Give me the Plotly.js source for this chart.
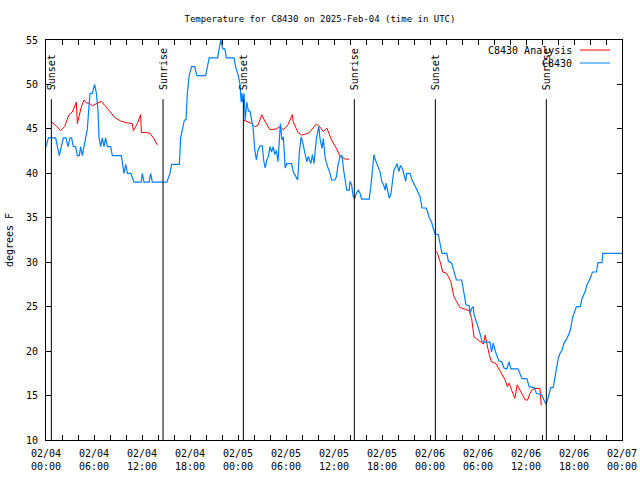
<!DOCTYPE html>
<html>
<head>
<meta charset="utf-8">
<script src="https://cdn.plot.ly/plotly-3.0.1.min.js"></script>
<style>html,body{margin:0;padding:0;background:#fff}#chart{width:640px;height:480px}</style>
</head>
<body>
<div id="chart"></div>
<script>
// Hours since 2025-02-04 00:00 UTC
const obsHours = [0.0,0.3,1.2,1.45,1.67,1.92,2.17,2.5,2.75,3.0,3.2,3.42,3.7,3.92,4.17,4.33,4.54,4.75,5.0,5.17,5.33,5.5,5.79,6.08,6.3,6.5,6.63,6.83,7.04,7.25,7.46,7.67,8.08,8.29,9.42,9.63,9.75,9.96,10.17,10.6,11.0,11.9,12.04,12.25,12.9,13.08,13.29,15.1,15.5,15.7,16.67,16.83,17.08,17.3,17.5,17.67,17.9,18.2,18.6,18.85,19.95,20.15,20.4,21.45,21.67,21.85,22.1,22.35,22.55,23.5,23.7,24.04,24.25,24.4,24.5,24.6,24.75,24.9,25.1,25.3,25.5,25.7,25.9,26.1,26.3,26.5,26.75,27.04,27.2,27.4,27.6,27.8,28.0,28.2,28.4,28.6,28.8,29.0,29.17,29.3,29.5,29.67,29.9,30.1,30.7,30.9,31.25,31.46,31.67,31.9,32.1,32.4,32.6,32.8,33.1,33.3,33.5,33.8,34.1,34.25,34.5,34.67,34.9,35.2,35.5,35.7,36.1,36.3,36.5,36.75,37.0,37.2,37.4,37.6,37.9,38.0,38.2,38.4,38.6,38.8,39.04,39.25,39.46,40.4,40.6,40.8,41.0,41.1,41.3,41.5,41.75,41.96,42.2,42.4,42.5,42.7,42.9,43.1,43.3,43.5,43.75,43.9,44.1,44.3,44.6,44.8,44.96,45.1,45.5,45.7,46.1,46.5,46.75,47.0,47.5,47.7,47.9,48.2,48.5,48.6,49.04,49.25,49.5,50.1,50.3,50.7,51.0,51.3,51.96,52.2,52.5,52.9,53.0,53.2,53.4,53.5,53.75,54.0,54.3,54.5,54.75,55.5,55.7,55.9,56.2,56.6,56.96,57.25,57.6,57.9,58.1,59.0,59.5,60.1,60.4,61.04,61.3,61.96,62.25,62.5,62.67,62.9,63.1,63.4,63.6,63.8,64.04,64.25,64.5,64.75,65.1,65.4,65.6,65.8,66.1,66.3,66.8,67.0,67.4,67.6,68.0,68.3,68.8,69.0,69.5,69.6,72.0];
const obsTemps = [43,44,44,43,42,43,44,44,43,44,44,43,43,42,42,43,42,43,44,45,47,49,49,50,49,47,44,43,44,43,44,43,43,42,42,41,40,41,40,40,39,39,40,39,39,40,39,39,40,41,41,44,45,46,46,49,51,52,52,51,51,52,53,53,54,55,54,54,53,53,52,51,50,48,49,48,49,46,48,47,47,46,45,42.6,41.5,42.6,43.1,43.1,41.5,40.6,41.5,41.9,43,42.4,43,42.1,42.6,41.3,44.5,45.6,43.75,44.1,40.6,41.1,41.1,40.2,39.6,39.25,42.4,44.1,43.4,41.9,41.3,41.9,41.1,42.1,41.1,43.9,45.25,43.9,42.8,43.9,41.7,40.75,40,39.25,39.25,39.6,40.9,41.9,42,40.4,39.2,38.1,38.1,39.1,38.7,37.4,37.2,37.75,38.1,37.75,37.1,37.1,38.5,40.4,42.1,41.7,41.1,40.75,40.2,39.1,38.7,38.1,38.9,38.1,37.2,37.6,39.25,40.4,40.75,41.1,40.2,40.9,40.4,39.8,39.1,40.0,40.0,39.4,38.7,37.9,37.4,36.1,36.1,35.7,35.0,34.5,33.6,33.2,33.1,32.3,31,31,30.1,29.9,28.9,28.0,28.0,26.9,25.2,25.1,24.25,24.8,25,24.1,23.5,22.75,21.8,21.1,21,21,19.9,20.9,19.9,18.9,18.8,18.1,18,18.8,18.0,18.0,16.9,16.9,16.0,15.9,15.25,15.1,14.5,14.05,14.4,15.2,15.9,15.9,17.1,17.9,19.2,19.75,20.1,20.9,21.4,22,22.6,23.7,24.4,25,25,25.9,26.7,27.4,28.1,28.9,28.9,29.95,29.95,31,31];

const anaHours = [0.67,1.21,1.83,2.33,2.875,3.29,3.79,3.92,4.13,4.42,4.75,5.08,5.4,5.79,6.42,6.92,7.46,8.08,8.71,9.33,9.96,10.79,10.92,11.42,11.83,11.92,12.46,13.0,13.5,13.92,null,
  24.67,25.3,25.7,26.1,26.5,26.96,27.4,28.0,28.8,29.25,29.67,30.2,30.8,30.9,31.5,31.96,32.8,33.2,33.8,34.25,34.67,35.1,35.7,36.3,36.75,37.4,37.9,null,
  48.67,48.9,49.25,49.6,50.0,50.3,50.6,50.8,51.0,51.3,51.75,52.4,52.9,53.2,53.5,53.8,54.3,54.67,54.9,55.2,55.4,55.7,56.25,56.8,57.4,57.67,57.9,58.2,58.6,58.9,59.25,59.6,59.9,60.2,60.5,60.8,61.25,61.75,61.9];
const anaTemps = [45.8,45.4,44.8,45.25,46.6,46.9,48.0,45.6,46.4,47.5,48.25,47.9,47.9,47.6,47.9,48.1,47.5,46.8,46.2,45.9,45.7,45.6,44.8,45.6,46.6,44.6,44.6,44.5,43.9,43.2,null,
  46.0,45.8,45.6,45.25,45.4,46.6,45.8,44.9,45.0,45.25,44.9,45.4,46.6,45.8,44.6,44.3,44.5,44.9,45.55,45.2,44.7,45.1,43.75,42.8,41.95,41.6,41.6,null,
  31.3,31.1,30.1,28.9,28.8,28.4,27.8,26.7,26.1,25.6,24.9,24.7,24.55,23.7,21.6,21.4,21.1,20.8,21.8,20.6,19.6,18.8,18.6,17.7,16.75,16.0,16.4,15.6,14.7,16.2,15.6,15.1,14.5,14.5,15.25,15.7,15.8,15.8,13.9];

const sunHours = [0.67,14.63,24.67,38.54,48.67,62.54];
const sunLabels = ['Sunset','Sunrise','Sunset','Sunrise','Sunset','Sunrise'];

const tickHours = [0,6,12,18,24,30,36,42,48,54,60,66,72];
const tickLabels = ['02/04<br>00:00','02/04<br>06:00','02/04<br>12:00','02/04<br>18:00','02/05<br>00:00','02/05<br>06:00','02/05<br>12:00','02/05<br>18:00','02/06<br>00:00','02/06<br>06:00','02/06<br>12:00','02/06<br>18:00','02/07<br>00:00'];

const seriesNames = ['C8430 Analysis','C8430'];
const seriesColors = ['#ff0000','#0080ff'];

const FONT = 'DejaVu Sans Mono, monospace';

const traces = [
  {x: anaHours, y: anaTemps, mode:'lines', name: seriesNames[0], line:{color:seriesColors[0], width:1}, connectgaps:false, showlegend:false},
  {x: obsHours, y: obsTemps, mode:'lines', name: seriesNames[1], line:{color:seriesColors[1], width:1.2}, showlegend:false}
];

const shapes = [];
const annotations = [];
sunHours.forEach((h,i)=>{
  shapes.push({type:'line', xref:'x', yref:'paper', x0:h, x1:h, y0:0, y1:0.852, line:{color:'#000', width:1}});
  annotations.push({xref:'x', yref:'paper', x:h, y:0.87, text:sunLabels[i], textangle:-90, showarrow:false, xanchor:'center', yanchor:'bottom', font:{family:FONT, size:10, color:'#000'}});
});
// legend (gnuplot style: text then sample)
seriesNames.forEach((n,i)=>{
  const yp = 1 - (10 + i*13)/400;
  annotations.push({xref:'paper', yref:'paper', x:(574-46)/576, y:yp, text:n, showarrow:false, xanchor:'right', yanchor:'middle', font:{family:FONT, size:10, color:'#000'}});
  shapes.push({type:'line', xref:'paper', yref:'paper', x0:(580-46)/576, x1:(610-46)/576, y0:yp, y1:yp, line:{color:seriesColors[i], width:1}});
});

const axisCommon = {
  showline:true, linecolor:'#000', linewidth:1, mirror:'allticks',
  ticks:'inside', ticklen:5, tickcolor:'#000', tickwidth:1,
  showgrid:false, zeroline:false,
  tickfont:{family:FONT, size:10, color:'#000'}
};

const layout = {
  width:640, height:480,
  margin:{l:46, r:18, t:40, b:40},
  paper_bgcolor:'#fff', plot_bgcolor:'#fff',
  title:{text:'Temperature for C8430 on 2025-Feb-04 (time in UTC)', x:0.5, xanchor:'center', y:0.96, yanchor:'middle', font:{family:FONT, size:9, color:'#000'}},
  xaxis:Object.assign({}, axisCommon, {
    range:[0,72], tickmode:'array', tickvals:tickHours, ticktext:tickLabels,
    ticklabelstandoff:4,
    minor:{tickmode:'linear', dtick:2, ticks:'inside', ticklen:5, tickcolor:'#000', tickwidth:1, showgrid:false}
  }),
  yaxis:Object.assign({}, axisCommon, {
    range:[10,55], tickmode:'linear', tick0:10, dtick:5, ticklabelstandoff:5,
    title:{text:'degrees F', font:{family:FONT, size:10, color:'#000'}, standoff:10}
  }),
  shapes:shapes, annotations:annotations,
  showlegend:false
};

Plotly.newPlot('chart', traces, layout, {staticPlot:true, displayModeBar:false});
</script>
</body>
</html>
